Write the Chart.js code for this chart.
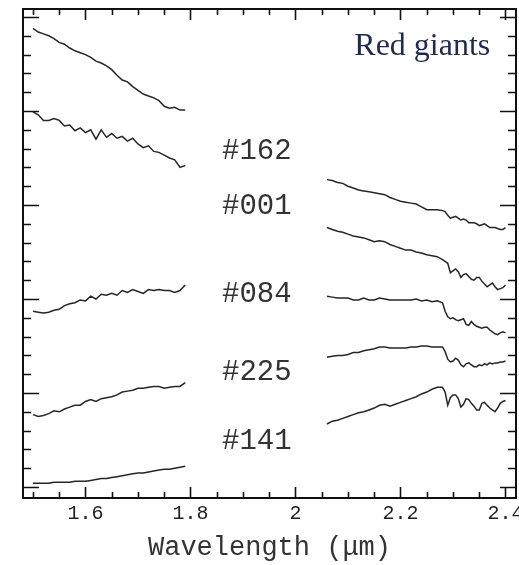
<!DOCTYPE html>
<html lang="en">
<head>
    <script src="https://cdn.jsdelivr.net/npm/chart.js"></script>
    <style>
        body { margin: 0; background: #fff; }
    </style>
</head>
<body>
<div style="width: 519px; height: 565px">
    <canvas id="myChart" width="519" height="565"></canvas>
</div>
<script>
    // wavelength grids (micron)
    const hWave = [1.50,1.51,1.52,1.53,1.54,1.55,1.56,1.57,1.58,1.59,1.60,1.61,1.62,1.63,1.64,1.65,1.66,1.67,1.68,1.69,1.70,1.71,1.72,1.73,1.74,1.75,1.76,1.77,1.78,1.79];
    const kWave = [2.06,2.07,2.08,2.09,2.10,2.11,2.12,2.13,2.14,2.15,2.16,2.17,2.18,2.19,2.20,2.21,2.22,2.23,2.24,2.25,2.26,2.27,2.28,
                   2.285,2.29,2.295,2.30,2.305,2.31,2.315,2.32,2.325,2.33,2.335,2.34,2.345,2.35,2.355,2.36,2.365,2.37,2.375,2.38,2.385,2.39,2.395,2.40];

    // flux + offset, H band
    const h162 = [4.88,4.84,4.82,4.80,4.77,4.73,4.71,4.67,4.64,4.62,4.60,4.57,4.53,4.51,4.48,4.44,4.38,4.33,4.31,4.26,4.22,4.18,4.16,4.14,4.11,4.05,4.03,4.04,4.01,4.01];
    const h001 = [3.99,3.96,3.90,3.90,3.92,3.90,3.84,3.85,3.79,3.82,3.77,3.80,3.70,3.80,3.72,3.76,3.71,3.73,3.68,3.71,3.65,3.61,3.63,3.57,3.56,3.53,3.50,3.48,3.40,3.42];
    const h084 = [1.87,1.86,1.85,1.86,1.88,1.89,1.93,1.95,1.96,1.99,1.98,2.03,2.00,2.05,2.04,2.06,2.04,2.09,2.07,2.10,2.08,2.06,2.10,2.09,2.10,2.09,2.09,2.07,2.09,2.15];
    const h225 = [0.77,0.75,0.76,0.78,0.81,0.80,0.83,0.85,0.87,0.87,0.91,0.93,0.91,0.94,0.95,0.96,0.98,1.01,1.02,1.03,1.05,1.05,1.06,1.07,1.07,1.05,1.06,1.07,1.07,1.11];
    const h141 = [0.04,0.04,0.04,0.04,0.05,0.05,0.05,0.05,0.06,0.06,0.06,0.07,0.08,0.09,0.09,0.10,0.11,0.12,0.13,0.14,0.15,0.15,0.16,0.17,0.18,0.19,0.19,0.20,0.21,0.22];

    // flux + offset, K band
    const k162 = [3.27,3.26,3.24,3.23,3.20,3.18,3.16,3.15,3.14,3.13,3.12,3.11,3.08,3.06,3.04,3.03,3.02,3.01,2.98,2.95,2.95,2.95,2.94,
                  2.93,2.89,2.86,2.87,2.88,2.86,2.84,2.85,2.84,2.81,2.81,2.81,2.80,2.78,2.79,2.80,2.78,2.76,2.76,2.76,2.75,2.74,2.74,2.76];
    const k001 = [2.76,2.74,2.72,2.71,2.69,2.67,2.66,2.65,2.63,2.61,2.62,2.61,2.58,2.56,2.54,2.52,2.52,2.50,2.49,2.47,2.46,2.45,2.42,
                  2.40,2.38,2.28,2.30,2.32,2.29,2.23,2.26,2.27,2.24,2.21,2.20,2.23,2.23,2.19,2.16,2.13,2.15,2.17,2.13,2.10,2.11,2.12,2.15];
    const k084 = [2.03,2.02,2.01,2.01,2.01,1.99,1.99,2.01,1.99,1.99,2.01,2.00,1.99,1.99,1.99,1.99,1.99,2.00,1.98,1.99,1.97,1.98,1.96,
                  1.87,1.81,1.79,1.80,1.78,1.77,1.78,1.79,1.73,1.72,1.76,1.73,1.71,1.70,1.69,1.70,1.70,1.67,1.65,1.63,1.62,1.64,1.65,1.64];
    const k225 = [1.38,1.39,1.40,1.40,1.41,1.43,1.43,1.45,1.46,1.47,1.49,1.49,1.48,1.48,1.48,1.48,1.49,1.49,1.50,1.50,1.49,1.49,1.49,
                  1.44,1.36,1.33,1.34,1.37,1.35,1.30,1.28,1.31,1.32,1.30,1.28,1.28,1.30,1.29,1.31,1.30,1.32,1.31,1.32,1.32,1.33,1.33,1.34];
    const k141 = [0.67,0.70,0.71,0.73,0.75,0.77,0.79,0.80,0.82,0.84,0.87,0.88,0.86,0.88,0.90,0.92,0.94,0.96,0.99,1.01,1.04,1.06,1.06,
                  1.01,0.87,0.95,0.98,0.98,0.94,0.85,0.88,0.94,0.93,0.89,0.86,0.82,0.82,0.89,0.90,0.87,0.84,0.82,0.80,0.84,0.89,0.91,0.92];

    const starNames = ['#162', '#001', '#084', '#225', '#141'];
    const labelY = [3.57, 2.99, 2.05, 1.22, 0.49];
    const labelX = 1.86;
    const xTickLabels = [1.6, 1.8, 2.0, 2.2, 2.4];

    const hSets = [h162, h001, h084, h225, h141];
    const kSets = [k162, k001, k084, k225, k141];

    function pts(wave, flux) {
        return wave.map((w, i) => ({x: w, y: flux[i]}));
    }

    const datasets = [];
    starNames.forEach((name, i) => {
        datasets.push({label: name + ' H', data: pts(hWave, hSets[i])});
        datasets.push({label: name + ' K', data: pts(kWave, kSets[i])});
    });
    datasets.forEach(d => {
        d.borderColor = '#262626';
        d.borderWidth = 1.5;
        d.pointRadius = 0;
        d.tension = 0;
        d.fill = false;
    });

    // frame, inward ticks and text labels
    const framePlugin = {
        id: 'frame',
        afterDatasetsDraw(chart) {
            const c = chart.ctx, a = chart.chartArea;
            const xs = chart.scales.x, ys = chart.scales.y;
            c.save();
            c.strokeStyle = '#111';
            c.lineWidth = 1.6;
            c.beginPath();
            for (let k = 0; k <= 18; k++) {
                const v = 1.5 + k * 0.05;
                const px = Math.round(xs.getPixelForValue(v)) + 0.5;
                const len = (k % 4 === 2) ? 11 : 6;
                c.moveTo(px, a.bottom); c.lineTo(px, a.bottom - len);
                c.moveTo(px, a.top); c.lineTo(px, a.top + len);
            }
            for (let k = 0; k <= 25; k++) {
                const v = k * 0.2;
                const py = Math.round(ys.getPixelForValue(v)) + 0.5;
                const len = (k % 5 === 0) ? 16 : 8;
                c.moveTo(a.left, py); c.lineTo(a.left + len, py);
                c.moveTo(a.right, py); c.lineTo(a.right - len, py);
            }
            c.stroke();
            c.lineWidth = 2;
            c.strokeRect(a.left, a.top, a.right - a.left, a.bottom - a.top);

            c.fillStyle = '#333';
            c.font = '29px "Liberation Mono", monospace';
            c.textBaseline = 'middle';
            c.textAlign = 'left';
            starNames.forEach((n, i) => {
                c.fillText(n, xs.getPixelForValue(labelX), ys.getPixelForValue(labelY[i]));
            });

            c.fillStyle = '#1f2a4f';
            c.font = '32px "Liberation Serif", serif';
            c.textAlign = 'right';
            c.textBaseline = 'alphabetic';
            c.fillText('Red giants', xs.getPixelForValue(2.371), ys.getPixelForValue(4.6));
            c.restore();
        }
    };

    const ctx = document.getElementById('myChart');
    const myChart = new Chart(ctx, {
        type: 'line',
        data: { datasets: datasets },
        options: {
            responsive: false,
            animation: false,
            layout: { padding: { left: 23, right: 3, top: 9, bottom: 0 } },
            plugins: {
                legend: { display: false },
                tooltip: { enabled: false }
            },
            scales: {
                x: {
                    type: 'linear',
                    min: 1.481,
                    max: 2.42,
                    grid: { display: false, drawTicks: false },
                    border: { display: false },
                    afterBuildTicks: axis => { axis.ticks = xTickLabels.map(v => ({value: v})); },
                    afterFit: axis => {
                        axis.height = 67;
                        axis.paddingLeft = 0;
                        axis.paddingRight = 0;
                    },
                    ticks: {
                        padding: 4,
                        color: '#222',
                        maxRotation: 0,
                        font: { family: '"Liberation Mono", monospace', size: 20 },
                        callback: v => String(+v.toFixed(1))
                    },
                    title: {
                        display: true,
                        text: 'Wavelength (μm)',
                        color: '#333',
                        padding: { top: 0, bottom: 1 },
                        font: { family: '"Liberation Mono", monospace', size: 27, weight: 'normal' }
                    }
                },
                y: {
                    type: 'linear',
                    display: false,
                    min: -0.117,
                    max: 5.085
                }
            }
        },
        plugins: [framePlugin]
    });
</script>
</body>
</html>
